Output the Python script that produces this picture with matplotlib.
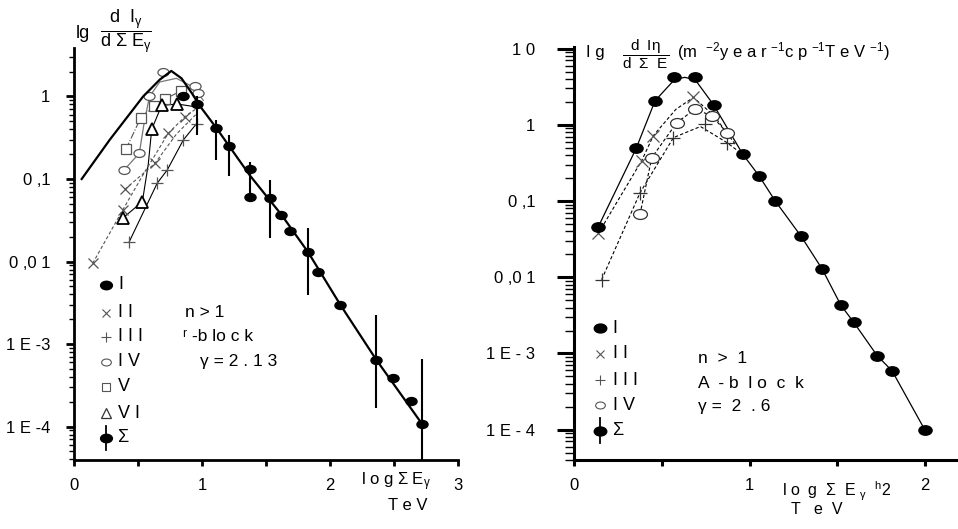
import matplotlib
matplotlib.use("Agg")
import matplotlib.pyplot as plt
import matplotlib.transforms as mtrans
from matplotlib.path import Path
from matplotlib.ticker import LogLocator, FixedLocator, NullFormatter

plt.rcParams['font.family'] = ['Liberation Sans', 'DejaVu Sans']
plt.rcParams['mathtext.fontset'] = 'custom'
plt.rcParams['mathtext.rm'] = 'Liberation Sans'
plt.rcParams['mathtext.it'] = 'Liberation Sans'
plt.rcParams['mathtext.bf'] = 'Liberation Sans'

# ---------------- left panel data (Г-block, gamma = 2.13) ----------------
sum_x = [0.85, 0.958, 1.11, 1.21, 1.375, 1.375, 1.535, 1.62, 1.69, 1.83, 1.905, 2.078, 2.36, 2.49, 2.63, 2.716]
sum_y = [1.0, 0.80, 0.42, 0.25, 0.131, 0.06, 0.059, 0.0366, 0.0236, 0.0129, 0.0075, 0.003, 6.45e-4, 3.84e-4, 2.04e-4, 1.07e-4]

err_x = [0.958, 1.11, 1.21, 1.375, 1.535, 1.83, 2.36, 2.716]
err_lo = [0.34, 0.17, 0.11, 0.0556, 0.0193, 0.0039, 1.66e-4, 3.9e-5]
err_hi = [1.0, 0.52, 0.34, 0.162, 0.0977, 0.0255, 2.25e-3, 6.5e-4]

fit_x = [0.06, 0.28, 0.54, 0.67, 0.76, 0.84, 0.92, 0.98, 1.11, 1.375, 1.62, 1.83, 2.08, 2.36, 2.72]
fit_y = [0.1, 0.3, 1.0, 1.6, 2.04, 1.66, 1.1, 0.78, 0.42, 0.11, 0.037, 0.0129, 0.003, 6.5e-4, 1.07e-4]

ii_x = [0.146, 0.38, 0.398, 0.633, 0.737, 0.867]
ii_y = [0.0095, 0.042, 0.075, 0.155, 0.358, 0.57]
ii_line_a_x = [0.146, 0.38, 0.55, 0.737, 0.867, 0.96]
ii_line_a_y = [0.0095, 0.042, 0.12, 0.358, 0.57, 0.72]
ii_line_b_x = [0.398, 0.633, 0.80, 0.95]
ii_line_b_y = [0.075, 0.155, 0.35, 0.6]

iii_x = [0.432, 0.65, 0.729, 0.854, 0.958]
iii_y = [0.0174, 0.089, 0.129, 0.297, 0.47]

iv_x = [0.39, 0.51, 0.588, 0.698, 0.945, 0.97]
iv_y = [0.128, 0.205, 1.0, 2.0, 1.35, 1.1]
iv_line_x = [0.39, 0.51, 0.55, 0.59, 0.67, 0.80, 0.93, 1.01]
iv_line_y = [0.128, 0.205, 0.5, 1.0, 1.5, 1.66, 1.31, 0.9]

v_x = [0.406, 0.521, 0.625, 0.711, 0.836]
v_y = [0.23, 0.55, 0.77, 0.93, 1.17]

vi_x = [0.385, 0.534, 0.607, 0.685, 0.808]
vi_y = [0.034, 0.053, 0.40, 0.78, 0.81]
vi_line_x = [0.385, 0.534, 0.58, 0.607, 0.685, 0.808, 0.95]
vi_line_y = [0.034, 0.053, 0.15, 0.40, 0.78, 0.81, 0.75]

left_labels = ['I', 'I I', 'I I I', 'I V', 'V', 'V I', 'Σ']

# ---------------- right panel data (A-block, gamma = 2.6) ----------------
r_sum_x = [0.137, 0.353, 0.461, 0.571, 0.69, 0.795, 0.962, 1.054, 1.147, 1.294, 1.414, 1.522, 1.594, 1.728, 1.814, 2.0]
r_sum_y = [0.046, 0.49, 2.07, 4.19, 4.19, 1.83, 0.41, 0.215, 0.1, 0.0346, 0.0129, 0.00428, 0.00258, 9.4e-4, 5.9e-4, 1.0e-4]
r_fit_x = [0.137, 0.353, 0.461, 0.571, 0.63, 0.69, 0.795, 0.962, 1.054, 1.147, 1.294, 1.414, 1.522, 1.594, 1.728, 1.814, 2.0]
r_fit_y = [0.046, 0.49, 2.07, 3.9, 4.2, 3.9, 1.83, 0.41, 0.215, 0.1, 0.0346, 0.0129, 0.00428, 0.00258, 9.4e-4, 5.9e-4, 1.0e-4]

r_ii_x = [0.137, 0.385, 0.451, 0.68]
r_ii_y = [0.0376, 0.34, 0.72, 2.29]
r_ii_line_x = [0.137, 0.385, 0.451, 0.58, 0.68, 0.80, 0.92]
r_ii_line_y = [0.0376, 0.34, 0.72, 1.6, 2.29, 1.3, 0.55]

r_iii_x = [0.156, 0.375, 0.566, 0.747, 0.871]
r_iii_y = [0.0093, 0.128, 0.68, 1.02, 0.585]
r_iii_line_x = [0.156, 0.375, 0.566, 0.72, 0.871, 0.96]
r_iii_line_y = [0.0093, 0.128, 0.68, 0.95, 0.585, 0.41]

r_iv_x = [0.375, 0.442, 0.585, 0.69, 0.785, 0.871]
r_iv_y = [0.067, 0.37, 1.07, 1.61, 1.31, 0.79]

right_labels = ['I', 'I I', 'I I I', 'I V', 'Σ']

# ---------------------------------------------------------------------------
ell = Path.unit_circle().transformed(mtrans.Affine2D().scale(1.4, 1.0))
grey = '#555555'

fig = plt.figure(figsize=(9.58, 5.29), dpi=100)
ax1 = fig.add_axes([74 / 958, 69 / 529, 384 / 958, 412 / 529])
ax2 = fig.add_axes([574.3 / 958, 69 / 529, 383.7 / 958, 413 / 529])


def style_axes(ax, xmax, ymin, ymax, xmajor, xminor, ylabels, lw, ylen, ypad):
    ax.set_yscale('log')
    ax.set_xlim(0, xmax)
    ax.set_ylim(ymin, ymax)
    for s in ['top', 'right']:
        ax.spines[s].set_visible(False)
    for s in ['left', 'bottom']:
        ax.spines[s].set_linewidth(lw)
    ax.xaxis.set_major_locator(FixedLocator(xmajor))
    ax.xaxis.set_minor_locator(FixedLocator(xminor))
    ax.set_xticklabels([str(v) for v in xmajor])
    ax.yaxis.set_major_locator(FixedLocator(sorted(ylabels.keys())))
    ax.set_yticklabels([ylabels[k] for k in sorted(ylabels.keys())])
    ax.yaxis.set_minor_locator(LogLocator(base=10, subs=[2, 3, 4, 5, 6, 7, 8, 9]))
    ax.yaxis.set_minor_formatter(NullFormatter())
    ax.tick_params(axis='x', which='both', direction='out', length=4, width=lw, labelsize=12, pad=9)
    ax.tick_params(axis='y', which='major', direction='out', length=ylen, width=lw, labelsize=12, pad=ypad)
    ax.tick_params(axis='y', which='minor', direction='out', length=ylen * 0.55, width=1.0)


style_axes(ax1, 3.0, 3.93e-5, 3.87, [0, 1, 2, 3], [0.5, 1.5, 2.5],
           {1: '1', 0.1: '0 ,1', 0.01: '0 ,0 1', 1e-3: '1 E -3', 1e-4: '1 E -4'}, 2.0, 6, 11)
style_axes(ax2, 2.19, 4.0e-5, 10.5, [0, 1, 2], [0.5, 1.5],
           {10: '1 0', 1: '1', 0.1: '0 ,1', 0.01: '0 ,0 1', 1e-3: '1 E - 3', 1e-4: '1 E - 4'}, 2.2, 12, 16)

# ---- left panel drawing ----
ax1.plot(fit_x, fit_y, color='black', lw=1.6, zorder=3)
ax1.plot(iv_line_x, iv_line_y, color='#777777', lw=0.9)
ax1.plot(v_x, v_y, color='#555555', lw=0.8, ls='-.')
ax1.plot(vi_line_x, vi_line_y, color='black', lw=0.8)
ax1.plot(ii_line_a_x, ii_line_a_y, color='#555555', lw=0.8, ls=(0, (3, 2)))
ax1.plot(ii_line_b_x, ii_line_b_y, color='#555555', lw=0.8, ls=(0, (3, 2)))
ax1.plot(iii_x, iii_y, color='black', lw=0.8)
ax1.vlines(err_x, err_lo, err_hi, color='black', lw=1.5, zorder=4)

ax1.plot(ii_x, ii_y, ls='none', marker='x', ms=7, mew=0.9, color=grey)
ax1.plot(iii_x, iii_y, ls='none', marker='+', ms=8, mew=0.9, color=grey)
ax1.plot(iv_x, iv_y, ls='none', marker=ell, ms=8, mew=0.9, mfc='white', mec=grey)
ax1.plot(v_x, v_y, ls='none', marker='s', ms=6.5, mew=0.9, mfc='white', mec=grey)
ax1.plot(vi_x, vi_y, ls='none', marker='^', ms=8.5, mew=1.3, mfc='white', mec='black')
ax1.plot(sum_x, sum_y, ls='none', marker=ell, ms=8, color='black', zorder=5)

# left legend (hand placed)
leg_mk = [dict(marker=ell, ms=8.5, color='black'),
          dict(marker='x', ms=5.5, mew=0.8, color=grey),
          dict(marker='+', ms=6.5, mew=0.8, color=grey),
          dict(marker=ell, ms=7, mew=0.8, mfc='white', mec=grey),
          dict(marker='s', ms=5.5, mew=0.8, mfc='white', mec=grey),
          dict(marker='^', ms=7.5, mew=0.9, mfc='white', mec='#333333'),
          dict(marker=ell, ms=8.5, color='black')]
leg_rows = [0.425, 0.3575, 0.299, 0.2386, 0.178, 0.1133, 0.0534]
for row, lab, mk in zip(leg_rows, left_labels, leg_mk):
    ax1.plot([0.0833], [row], ls='none', transform=ax1.transAxes, clip_on=False, **mk)
    ax1.text(0.115, row, lab, transform=ax1.transAxes, fontsize=13, va='center', ha='left')
ax1.plot([0.0833, 0.0833], [leg_rows[-1] - 0.028, leg_rows[-1] + 0.028], color='black', lw=1.3,
         transform=ax1.transAxes)

ax1.text(0.289, 0.3575, 'n > 1', transform=ax1.transAxes, fontsize=12.5, va='center')
ax1.text(0.283, 0.299, 'ʳ -b lo c k', transform=ax1.transAxes, fontsize=12.5, va='center')
ax1.text(0.327, 0.2386, 'γ = 2 . 1 3', transform=ax1.transAxes, fontsize=12.5, va='center')

# ---- right panel drawing ----
ax2.plot(r_fit_x, r_fit_y, color='black', lw=0.9)
ax2.plot(r_ii_line_x, r_ii_line_y, color='black', lw=0.8, ls=(0, (3, 2)))
ax2.plot(r_iii_line_x, r_iii_line_y, color='black', lw=0.8, ls=(0, (3, 2)))
ax2.plot(r_iv_x, r_iv_y, color='black', lw=0.8, ls=(0, (3, 2)))

ax2.plot(r_ii_x, r_ii_y, ls='none', marker='x', ms=9, mew=0.9, color=grey)
ax2.plot(r_iii_x, r_iii_y, ls='none', marker='+', ms=10, mew=0.9, color='#333333')
ax2.plot(r_iv_x, r_iv_y, ls='none', marker=ell, ms=10, mew=0.9, mfc='white', mec='#333333')
ax2.plot(r_sum_x, r_sum_y, ls='none', marker=ell, ms=9.5, color='black', zorder=5)

leg_mk2 = [dict(marker=ell, ms=9, color='black'),
           dict(marker='x', ms=6, mew=0.8, color=grey),
           dict(marker='+', ms=7, mew=0.8, color=grey),
           dict(marker=ell, ms=7, mew=0.8, mfc='white', mec=grey),
           dict(marker=ell, ms=9, color='black')]
leg_rows2 = [0.319, 0.2567, 0.1937, 0.133, 0.071]
for row, lab, mk in zip(leg_rows2, right_labels, leg_mk2):
    ax2.plot([0.067], [row], ls='none', transform=ax2.transAxes, clip_on=False, **mk)
    ax2.text(0.1, row, lab, transform=ax2.transAxes, fontsize=13, va='center', ha='left')
ax2.plot([0.067, 0.067], [leg_rows2[-1] - 0.03, leg_rows2[-1] + 0.03], color='black', lw=1.3,
         transform=ax2.transAxes)

ax2.text(0.322, 0.246, 'n  >  1', transform=ax2.transAxes, fontsize=12.5, va='center')
ax2.text(0.322, 0.185, 'A  - b  l o  c  k', transform=ax2.transAxes, fontsize=12.5, va='center')
ax2.text(0.322, 0.13, 'γ =  2  . 6', transform=ax2.transAxes, fontsize=12.5, va='center')

# ---- axis titles (placed in figure pixels) ----
def px(x, y):
    return x / 958, 1 - y / 529

fig.text(*px(76, 33), 'lg', fontsize=13, va='center')
fig.text(*px(126, 31), r'$\dfrac{d\ \ I_{\gamma}}{d\ \Sigma\ E_{\gamma}}$', fontsize=13, va='center', ha='center')
fig.text(*px(361, 482), r'l o g $\Sigma$ E$_{\gamma}$', fontsize=12, va='center')
fig.text(*px(408, 505), 'T e V', fontsize=12, va='center', ha='center')

fig.text(*px(586, 52), 'I g', fontsize=12, va='center')
fig.text(*px(646, 54), r'$\dfrac{d\ \ I\eta}{d\ \ \Sigma\ \ E}$', fontsize=11, va='center', ha='center')
fig.text(*px(677, 52), r'(m  $^{-2}$y e a r $^{-1}$c p $^{-1}$T e V $^{-1}$)', fontsize=12, va='center')
fig.text(*px(782, 491), r'l o  g  $\Sigma$  E $_{\gamma}$  $^{h}$2', fontsize=11.5, va='center')
fig.text(*px(817, 510), 'T   e  V', fontsize=11.5, va='center', ha='center')

fig.savefig('out.png', dpi=100)
